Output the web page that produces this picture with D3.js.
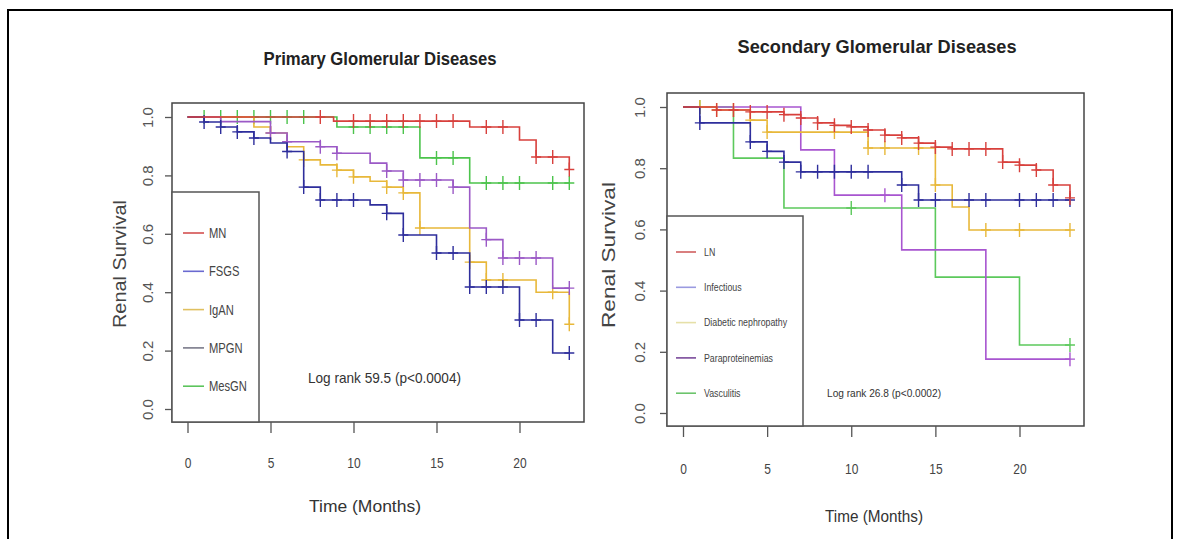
<!DOCTYPE html>
<html>
<head>
<meta charset="utf-8">
<script src="https://cdn.jsdelivr.net/npm/d3@7"></script>
<style>
  body { margin: 0; background: #fff; }
  svg { display: block; }
</style>
</head>
<body>
<script>
const monthTicks = [0, 5, 10, 15, 20];
const survTicks = [0, 0.2, 0.4, 0.6, 0.8, 1.0];
const endMonth = 23;

// Primary glomerular diseases
const primaryNames = ["MN", "FSGS", "IgAN", "MPGN", "MesGN"];
const mnTime = [0, 8.8, 17, 20, 21, 23];
const mnSurv = [1, 0.986, 0.966, 0.921, 0.863, 0.82];
const mnCens = [8, 10, 11, 12, 13, 14, 15, 16, 18, 19, 21, 22, 23];

const fsgsTime = [0, 1, 2, 3, 4, 5, 6, 7, 8, 11, 12, 13, 15, 17, 20, 22];
const fsgsSurv = [1, 0.983, 0.966, 0.949, 0.928, 0.911, 0.882, 0.76, 0.716, 0.699, 0.67, 0.596, 0.534, 0.418, 0.305, 0.192];
const fsgsCens = [1, 2, 3, 4, 6, 7, 8, 9, 10, 12, 13, 15, 16, 17, 18, 19, 20, 21, 23];

const igaTime = [0, 4, 5, 6, 7, 8, 9, 10, 11, 12, 13, 14, 17, 18, 21, 23];
const igaSurv = [1, 0.966, 0.945, 0.898, 0.853, 0.836, 0.818, 0.795, 0.78, 0.76, 0.74, 0.62, 0.503, 0.442, 0.40, 0.29];
const igaCens = [5, 7, 9, 10, 12, 13, 14, 17, 18, 19, 22, 23];

const mpgnTime = [0, 2, 5, 6, 8, 9, 11, 12, 13, 16, 17, 18, 19, 22];
const mpgnSurv = [1, 0.984, 0.945, 0.915, 0.898, 0.876, 0.842, 0.815, 0.784, 0.76, 0.62, 0.58, 0.517, 0.414];
const mpgnCens = [5, 6, 8, 9, 12, 13, 14, 15, 16, 18, 19, 20, 21, 23];

const mesTime = [0, 9, 14, 17];
const mesSurv = [1, 0.966, 0.86, 0.774];
const mesCens = [1, 2, 3, 4, 5, 6, 7, 10, 11, 12, 13, 15, 16, 18, 19, 20, 22, 23];

// Secondary glomerular diseases
const secondaryNames = ["LN", "Infectious", "Diabetic nephropathy", "Paraproteinemias", "Vasculitis"];
const lnTime = [0, 2, 4, 6, 7, 8, 9, 10, 11, 12, 13, 14, 15, 16, 19, 20, 21, 22, 23];
const lnSurv = [1, 0.99, 0.984, 0.975, 0.964, 0.948, 0.94, 0.935, 0.925, 0.908, 0.899, 0.882, 0.869, 0.863, 0.82, 0.81, 0.794, 0.745, 0.703];
const lnCens = [2, 3, 4, 5, 6, 7, 8, 9, 10, 11, 12, 13, 14, 15, 16, 17, 18, 19, 20, 21, 22, 23];

const infTime = [0, 1, 4, 5, 6, 7, 13, 14];
const infSurv = [1, 0.948, 0.886, 0.855, 0.82, 0.788, 0.745, 0.696];
const infCens = [1, 4, 5, 6, 7, 8, 9, 10, 11, 13, 14, 15, 17, 18, 20, 21, 22, 23];

const dnTime = [0, 2, 4, 5, 11, 15, 16, 17];
const dnSurv = [1, 0.99, 0.957, 0.918, 0.866, 0.745, 0.673, 0.598];
const dnCens = [1, 2, 3, 4, 5, 9, 11, 12, 14, 15, 18, 20, 23];

const paraTime = [0, 7, 9, 13, 18];
const paraSurv = [1, 0.86, 0.712, 0.533, 0.176];
const paraCens = [12, 23];

const vascTime = [0, 3, 6, 15, 20];
const vascSurv = [1, 0.833, 0.67, 0.444, 0.222];
const vascCens = [1, 10, 23];

const svg = d3.select("body").append("svg")
  .attr("width", 1180)
  .attr("height", 539);

svg.append("rect")
  .attr("x", 8).attr("y", 10)
  .attr("width", 1164).attr("height", 600)
  .attr("fill", "none").attr("stroke", "#000").attr("stroke-width", 2);

const font = "'Liberation Sans', Arial, sans-serif";
const squeeze = 0.8; // condensed look of the original labels

function survAt(times, surv, t) {
  let s = surv[0];
  for (let i = 0; i < times.length; i++) {
    if (times[i] <= t) s = surv[i];
  }
  return s;
}

function drawPanel(p) {
  const g = svg.append("g");
  const x = d3.scaleLinear().domain([0, 20]).range(p.xr);
  const y = d3.scaleLinear().domain([0, 1]).range(p.yr);

  // title
  g.append("text")
    .attr("x", p.titleX).attr("y", p.titleY)
    .attr("text-anchor", "middle")
    .attr("font-family", font)
    .attr("font-weight", "bold")
    .attr("font-size", p.titleSize)
    .attr("textLength", p.titleLen)
    .attr("lengthAdjust", "spacingAndGlyphs")
    .attr("fill", "#222")
    .text(p.title);

  // curves
  const line = d3.line()
    .x(d => x(d[0]))
    .y(d => y(d[1]))
    .curve(d3.curveStepAfter);

  p.series.forEach(s => {
    const pts = s.time.map((t, i) => [t, s.surv[i]]);
    pts.push([endMonth, s.surv[s.surv.length - 1]]);
    g.append("path")
      .attr("d", line(pts))
      .attr("fill", "none")
      .attr("stroke", s.color)
      .attr("stroke-width", 1.6);

    g.selectAll(null)
      .data(s.cens)
      .enter()
      .append("path")
      .attr("d", t => {
        const cx = x(t), cy = y(survAt(s.time, s.surv, t));
        return `M${cx - 5},${cy}h10M${cx},${cy - 7}v14`;
      })
      .attr("stroke", s.color)
      .attr("stroke-width", 1.4)
      .attr("fill", "none");
  });

  // frame
  g.append("rect")
    .attr("x", p.frame[0]).attr("y", p.frame[1])
    .attr("width", p.frame[2] - p.frame[0])
    .attr("height", p.frame[3] - p.frame[1])
    .attr("fill", "none").attr("stroke", "#444").attr("stroke-width", 1.5);

  // axes
  const xAxis = g.append("g")
    .attr("transform", `translate(0,${p.frame[3]})`)
    .attr("color", "#555")
    .call(d3.axisBottom(x).tickValues(monthTicks).tickSize(11));
  xAxis.select(".domain").remove();
  xAxis.selectAll("line").attr("stroke-width", 1.3);
  xAxis.selectAll("text")
    .attr("y", p.xLabOff).attr("dy", 0)
    .attr("transform", `scale(${squeeze},1)`)
    .attr("font-family", font)
    .attr("font-size", 15)
    .attr("fill", "#444");

  const yAxis = g.append("g")
    .attr("transform", `translate(${p.frame[0]},0)`)
    .attr("color", "#555")
    .call(d3.axisLeft(y).tickValues(survTicks).tickSize(7).tickFormat(d3.format(".1f")));
  yAxis.select(".domain").remove();
  yAxis.selectAll("line").attr("stroke-width", 1.3);
  yAxis.selectAll("text")
    .attr("transform", "rotate(-90)")
    .attr("x", 0).attr("y", -p.yLabOff).attr("dy", 0)
    .attr("text-anchor", "middle")
    .attr("font-family", font)
    .attr("font-size", 15)
    .attr("fill", "#555");

  // axis titles
  g.append("text")
    .attr("transform", `translate(${p.ytX},${p.ytY}) rotate(-90)`)
    .attr("text-anchor", "middle")
    .attr("font-family", font)
    .attr("font-size", 18)
    .attr("textLength", p.ytLen)
    .attr("lengthAdjust", "spacingAndGlyphs")
    .attr("fill", "#444")
    .text("Renal Survival");

  g.append("text")
    .attr("x", p.xtX).attr("y", p.xtY)
    .attr("text-anchor", "middle")
    .attr("font-family", font)
    .attr("font-size", 16)
    .attr("textLength", p.xtLen)
    .attr("lengthAdjust", "spacingAndGlyphs")
    .attr("fill", "#333")
    .text("Time (Months)");

  // legend
  const lg = p.legend;
  g.append("rect")
    .attr("x", p.frame[0]).attr("y", lg.top)
    .attr("width", lg.right - p.frame[0])
    .attr("height", p.frame[3] - lg.top)
    .attr("fill", "#fff").attr("stroke", "#555").attr("stroke-width", 1.5);

  p.names.forEach((name, i) => {
    const ly = lg.first + i * lg.step;
    g.append("line")
      .attr("x1", lg.lx0).attr("x2", lg.lx1)
      .attr("y1", ly).attr("y2", ly)
      .attr("stroke", lg.colors[i]).attr("stroke-width", 1.6);
    g.append("text")
      .attr("transform", `translate(${lg.tx},${ly}) scale(${squeeze},1)`)
      .attr("dy", "0.35em")
      .attr("font-family", font)
      .attr("font-size", lg.size)
      .attr("fill", "#444")
      .text(name);
  });

  g.append("text")
    .attr("x", p.lrX).attr("y", p.lrY)
    .attr("font-family", font)
    .attr("font-size", p.lrSize)
    .attr("textLength", p.lrLen)
    .attr("lengthAdjust", "spacingAndGlyphs")
    .attr("fill", "#333")
    .text(p.logRank);
}

drawPanel({
  title: "Primary Glomerular Diseases",
  titleX: 380, titleY: 65, titleSize: 18, titleLen: 233,
  frame: [172, 103, 584, 422],
  xr: [187.5, 519.5], yr: [409, 117],
  xLabOff: 46, yLabOff: 19,
  ytX: 126, ytY: 264, ytLen: 128,
  xtX: 365, xtY: 512, xtLen: 112,
  names: primaryNames,
  series: [
    { time: mesTime, surv: mesSurv, cens: mesCens, color: "#4cc44c" },
    { time: igaTime, surv: igaSurv, cens: igaCens, color: "#e8b83a" },
    { time: mpgnTime, surv: mpgnSurv, cens: mpgnCens, color: "#9b59c6" },
    { time: fsgsTime, surv: fsgsSurv, cens: fsgsCens, color: "#2e2e9c" },
    { time: mnTime, surv: mnSurv, cens: mnCens, color: "#d8403c" }
  ],
  legend: {
    top: 192, right: 259, first: 233, step: 38.3,
    lx0: 183, lx1: 204, tx: 209, size: 14,
    colors: ["#d45050", "#6a6ad0", "#e0c060", "#7a7a8a", "#5cc45c"]
  },
  logRank: "Log rank 59.5 (p<0.0004)",
  lrX: 308, lrY: 383, lrSize: 15, lrLen: 153
});

drawPanel({
  title: "Secondary Glomerular Diseases",
  titleX: 877, titleY: 53, titleSize: 19, titleLen: 279,
  frame: [667, 93, 1084, 426],
  xr: [683, 1019.5], yr: [413, 107],
  xLabOff: 48, yLabOff: 22,
  ytX: 615, ytY: 255, ytLen: 146,
  xtX: 874, xtY: 522, xtLen: 98,
  names: secondaryNames,
  series: [
    { time: vascTime, surv: vascSurv, cens: vascCens, color: "#5cc95c" },
    { time: paraTime, surv: paraSurv, cens: paraCens, color: "#a855d0" },
    { time: dnTime, surv: dnSurv, cens: dnCens, color: "#e8b83a" },
    { time: infTime, surv: infSurv, cens: infCens, color: "#2e2e9c" },
    { time: lnTime, surv: lnSurv, cens: lnCens, color: "#d8403c" }
  ],
  legend: {
    top: 216, right: 803, first: 252, step: 35.3,
    lx0: 676, lx1: 696, tx: 704, size: 11,
    colors: ["#d06060", "#9a9ae0", "#e6e0a8", "#7a4a9a", "#6cc46c"]
  },
  logRank: "Log rank 26.8 (p<0.0002)",
  lrX: 827, lrY: 397, lrSize: 11, lrLen: 114
});
</script>
</body>
</html>
